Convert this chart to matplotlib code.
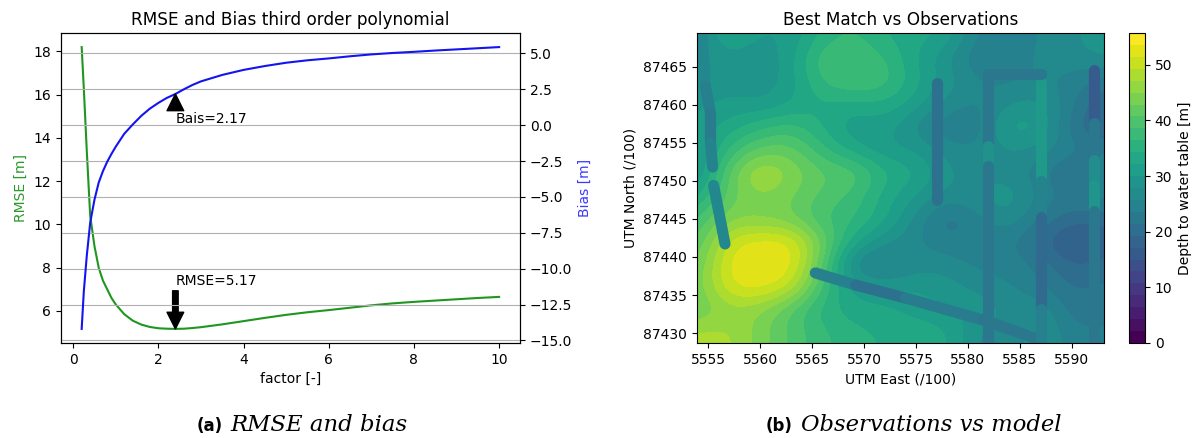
"""
RMSE / bias curves against the scaling factor, next to the best match
depth-to-water-table map with the observation tracks on top.
"""

import numpy as np
import matplotlib
matplotlib.use('Agg')
import matplotlib.pyplot as plt
from matplotlib.colors import BoundaryNorm

# left panel: curves
FACTOR = [0.2, 0.25, 0.32, 0.4, 0.5, 0.6, 0.7, 0.8, 0.9, 1, 1.2, 1.4, 1.6, 1.8, 2, 2.2, 2.4,
          2.6, 2.8, 3, 3.5, 4, 4.5, 5, 5.5, 6, 6.5, 7, 7.5, 8, 8.5, 9, 9.5, 10]
RMSE = [18.2, 16.3, 13.4, 10.4, 9.0, 8.0, 7.4, 7.0, 6.6, 6.3, 5.85, 5.55, 5.37, 5.26, 5.2,
        5.18, 5.17, 5.18, 5.21, 5.25, 5.38, 5.53, 5.68, 5.82, 5.94, 6.04, 6.15, 6.26, 6.35,
        6.42, 6.48, 6.54, 6.6, 6.65]
BIAS = [-14.2, -11.6, -9.1, -6.8, -5.2, -4.0, -3.2, -2.55, -2.0, -1.5, -0.6, 0.05, 0.65,
        1.15, 1.55, 1.9, 2.17, 2.5, 2.8, 3.05, 3.5, 3.85, 4.12, 4.35, 4.52, 4.65, 4.8, 4.93,
        5.03, 5.11, 5.2, 5.28, 5.36, 5.44]
BEST_FACTOR = 2.4
BEST_RMSE = 5.17
BEST_BIAS = 2.17

# right panel: depth field, on a 3 x 3 cell grid
# rows run north to south, 87469 ... 87430, columns 5554 ... 5593
EAST_FIRST, EAST_LAST = 5554, 5593
NORTH_FIRST, NORTH_LAST = 87469, 87430
DEPTH = [
    [28, 32, 30, 30, 35, 37, 34, 33, 32, 25, 24, 26, 27, 30],
    [27, 30, 28, 31, 39, 39, 37, 32, 28, 23, 25, 26, 27, 28],
    [28, 29, 28, 31, 37, 39, 38, 33, 29, 26, 25, 26, 25, 22],
    [29, 31, 30, 32, 34, 33, 34, 31, 27, 25, 28, 29, 24, 19],
    [31, 33, 36, 38, 34, 30, 31, 27, 23, 24, 32, 31, 22, 18],
    [29, 37, 42, 42, 37, 33, 30, 30, 27, 26, 28, 27, 24, 24],
    [28, 42, 49, 45, 41, 41, 35, 33, 28, 27, 27, 24, 20, 25],
    [33, 42, 45, 43, 40, 38, 33, 30, 27, 28, 30, 25, 23, 25],
    [38, 45, 44, 43, 38, 37, 33, 27, 21, 25, 28, 23, 20, 20],
    [40, 51, 53, 53, 43, 33, 28, 26, 24, 24, 24, 20, 15, 18],
    [42, 53, 54, 53.5, 41, 25, 23, 27, 27, 25, 25, 23, 19, 20],
    [43, 52, 53, 50, 38, 31, 30, 30, 29, 27, 26, 24, 21, 22],
    [42, 46, 45, 40, 35, 33, 33, 31, 30, 30, 27, 28, 22, 23],
    [48, 48, 44, 40, 37, 35, 34, 34, 33, 27, 27, 29, 24, 24],
]

# observation tracks: east, north, depth of the stretch starting at each vertex
TRACK_A_E = [5554.4, 5554.7, 5555.2, 5555.2, 5555.4]
TRACK_A_N = [87469.4, 87462.4, 87458.9, 87455.0, 87451.8]
TRACK_A_D = [26, 24, 23, 25, 25]
TRACK_B_E = [5555.5, 5556.6]
TRACK_B_N = [87449.4, 87441.7]
TRACK_B_D = [26, 26]
TRACK_C_E = [5565.3, 5569.2, 5574.0, 5581.5, 5586.3]
TRACK_C_N = [87437.9, 87436.3, 87434.6, 87431.7, 87429.4]
TRACK_C_D = [24, 21, 23, 22, 22]
TRACK_D_E = [5577.0, 5577.0]
TRACK_D_N = [87462.9, 87447.5]
TRACK_D_D = [21, 21]
TRACK_E_E = [5587.0, 5581.9, 5581.9, 5581.9, 5581.9]
TRACK_E_N = [87464.0, 87464.0, 87454.5, 87452.0, 87428.7]
TRACK_E_D = [22, 22, 28, 22, 22]
TRACK_F_E = [5587.0, 5587.0, 5587.0, 5587.0, 5587.0]
TRACK_F_N = [87463.0, 87450.0, 87445.2, 87433.1, 87428.7]
TRACK_F_D = [30, 25, 19, 24, 24]
TRACK_G_E = [5592.1, 5592.1, 5592.1, 5592.1, 5592.1, 5592.1]
TRACK_G_N = [87464.5, 87457.6, 87452.7, 87449.5, 87446.0, 87428.7]
TRACK_G_D = [16, 22, 27, 29, 22, 22]

TRACKS = [
    (TRACK_A_E, TRACK_A_N, TRACK_A_D),
    (TRACK_B_E, TRACK_B_N, TRACK_B_D),
    (TRACK_C_E, TRACK_C_N, TRACK_C_D),
    (TRACK_D_E, TRACK_D_N, TRACK_D_D),
    (TRACK_F_E, TRACK_F_N, TRACK_F_D),
    (TRACK_G_E, TRACK_G_N, TRACK_G_D),
    (TRACK_E_E, TRACK_E_N, TRACK_E_D),
]

W, H = 1196, 438
DEPTH_MAX = 55.7


def px_axes(fig, left, right, top, bottom):
    """Axes from pixel edges, y counted from the top of the image."""
    return fig.add_axes([left / W, 1 - bottom / H, (right - left) / W, (bottom - top) / H])


def main(out_path='out.png'):
    fig = plt.figure(figsize=(W / 100, H / 100), dpi=100)

    # RMSE and bias
    ax = px_axes(fig, 60.8, 520, 33, 343)
    ax.plot(FACTOR, RMSE, color='#1f961f')
    ax.set_xlabel('factor [-]')
    ax.set_ylabel('RMSE [m]', color='#2a9a2a')
    ax.set_title('RMSE and Bias third order polynomial', fontsize=12.2)
    ax.annotate(f'RMSE={BEST_RMSE}', xy=(BEST_FACTOR, BEST_RMSE), xytext=(BEST_FACTOR, 7.2),
                arrowprops=dict(facecolor='black'))

    ax2 = ax.twinx()
    ax2.plot(FACTOR, BIAS, color='#1414f0')
    ax2.set_ylabel('Bias [m]', color='#3a3aff')
    ax2.grid(True, axis='y')
    ax2.annotate(f'Bais={BEST_BIAS}', xy=(BEST_FACTOR, BEST_BIAS), xytext=(BEST_FACTOR, 0.17),
                 arrowprops=dict(facecolor='black'))

    # best match map: bicubic image over banded levels, like filled contours
    ax3 = px_axes(fig, 697, 1104, 33, 343)
    levels = np.linspace(0, DEPTH_MAX, 27)
    norm = BoundaryNorm(levels, 256)
    im = ax3.imshow(DEPTH, cmap='viridis', norm=norm, aspect='auto', interpolation='bicubic',
                    interpolation_stage='data',
                    extent=(EAST_FIRST - 1.5, EAST_LAST + 1.5, NORTH_LAST - 1.5, NORTH_FIRST + 1.5))
    cmap = plt.get_cmap('viridis')
    for east, north, depth in TRACKS:
        for i in range(len(east) - 1):
            ax3.plot(east[i:i + 2], north[i:i + 2], color=cmap(depth[i] / DEPTH_MAX),
                     lw=8, solid_capstyle='round')
    ax3.set_xlim(5553.9, 5593.1)
    ax3.set_ylim(87428.7, 87469.4)
    ax3.set_xticks(np.arange(5555, 5595, 5))
    ax3.set_yticks(np.arange(87430, 87470, 5))
    ax3.ticklabel_format(useOffset=False, style='plain')
    ax3.set_xlabel('UTM East (/100)')
    ax3.set_ylabel('UTM North (/100)')
    ax3.set_title('Best Match vs Observations', fontsize=12.2)

    cax = px_axes(fig, 1128.5, 1145, 33, 343)
    cbar = fig.colorbar(im, cax=cax, ticks=np.arange(0, 60, 10))
    cbar.minorticks_off()
    cbar.set_label('Depth to water table [m]')

    # captions
    fig.text(197 / W, 1 - 431 / H, '(a)', fontsize=12, fontweight='bold', family='DejaVu Sans')
    fig.text(230 / W, 1 - 431 / H, 'RMSE and bias', fontsize=16.4, style='italic', family='DejaVu Serif')
    fig.text(766 / W, 1 - 431 / H, '(b)', fontsize=12, fontweight='bold', family='DejaVu Sans')
    fig.text(801 / W, 1 - 431 / H, 'Observations vs model', fontsize=16.3, style='italic', family='DejaVu Serif')

    fig.savefig(out_path, dpi=100)


if __name__ == '__main__':
    main()
